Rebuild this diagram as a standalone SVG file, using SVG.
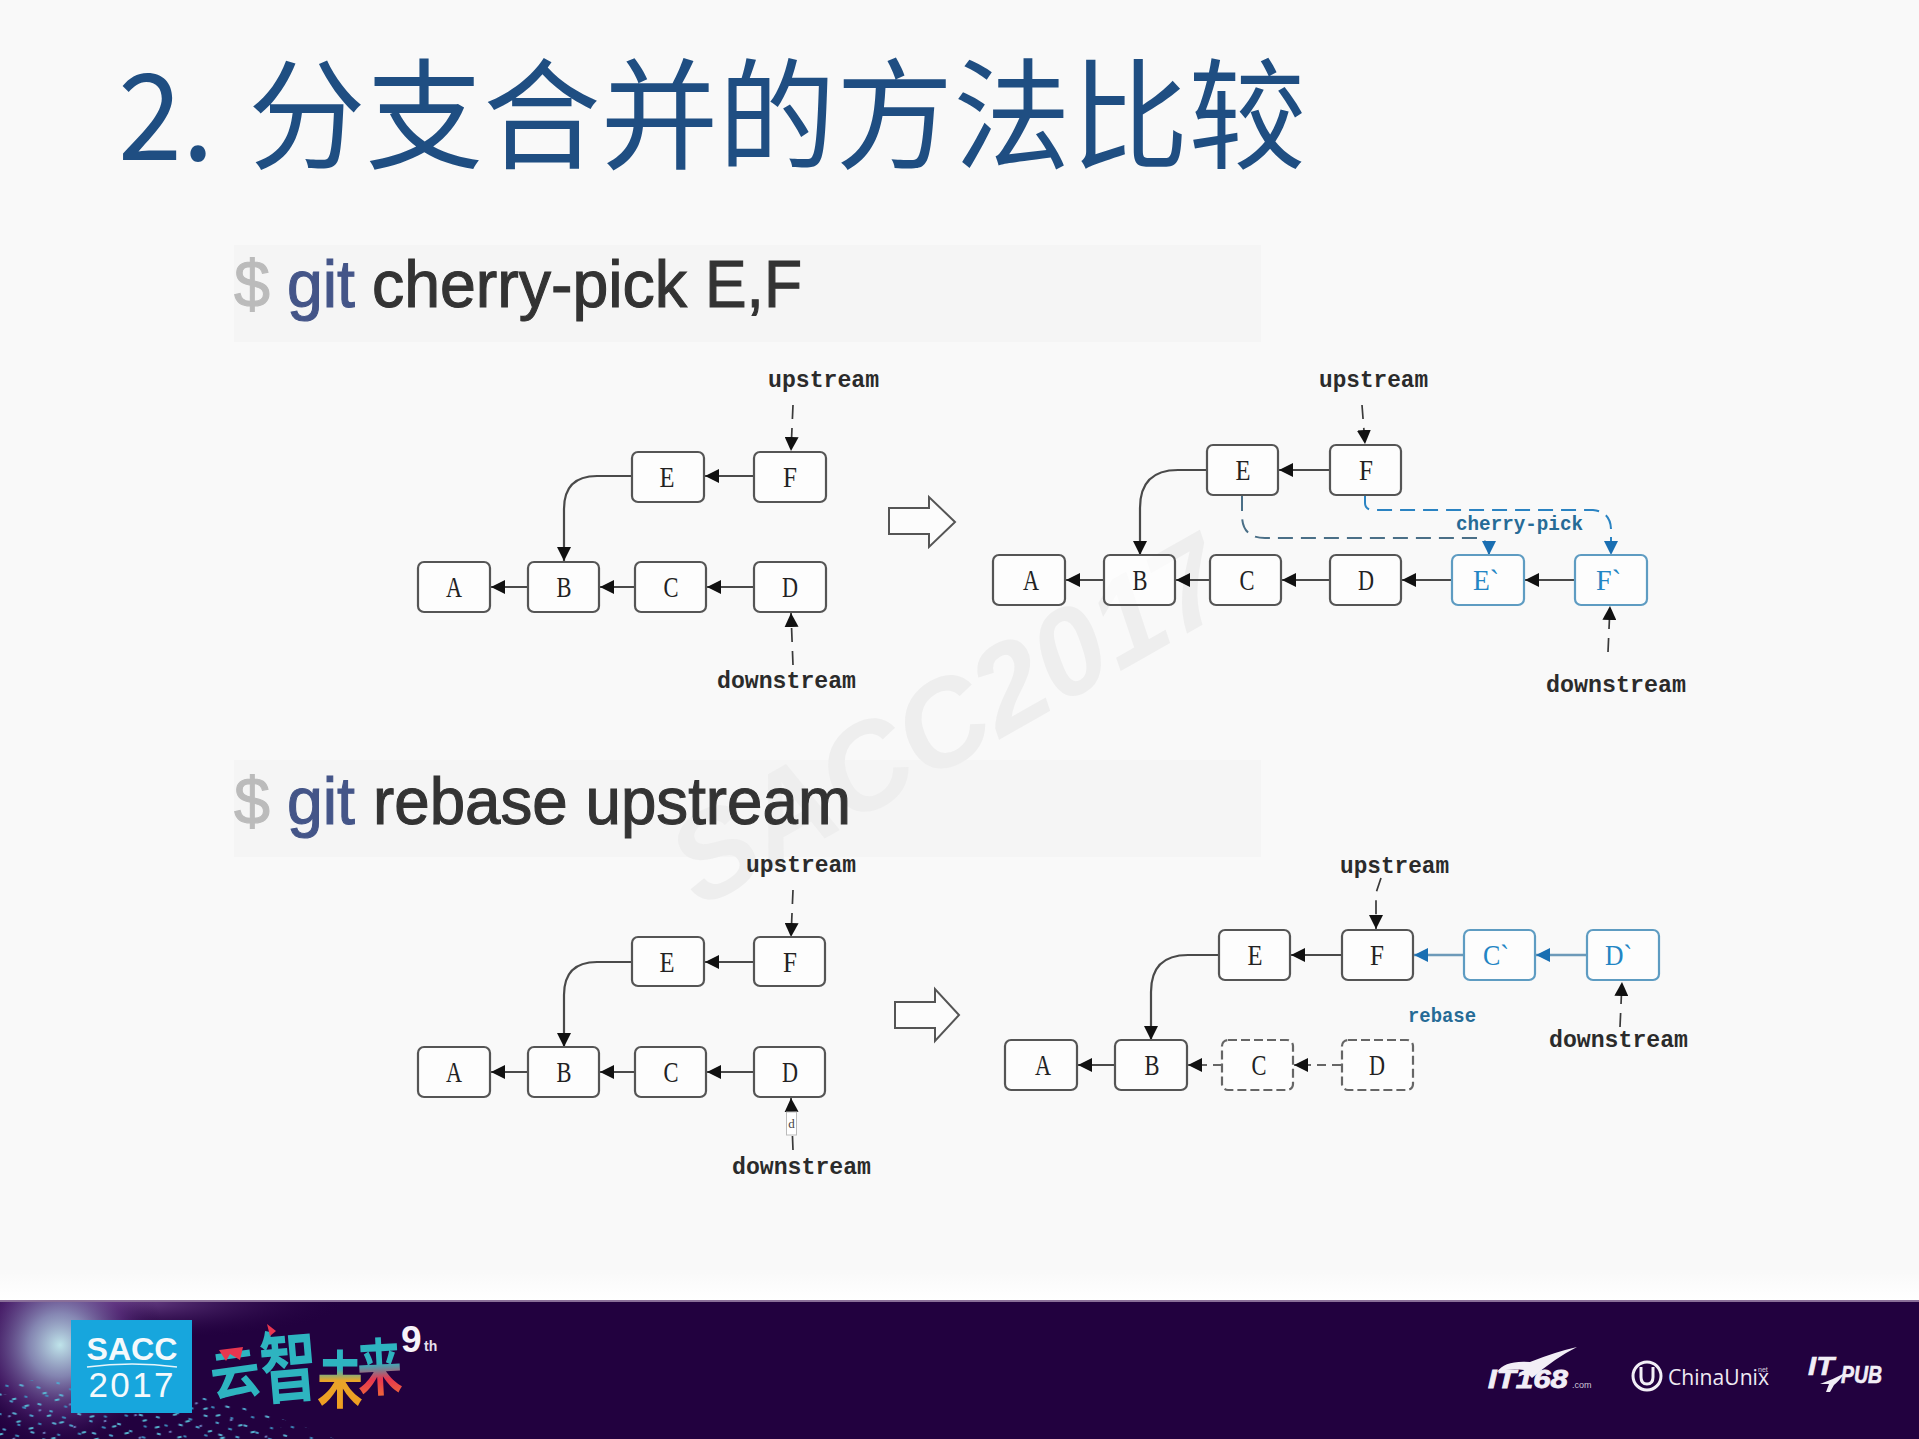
<svg xmlns="http://www.w3.org/2000/svg" width="1919" height="1439" viewBox="0 0 1919 1439">
<defs>
<style>
.n{fill:#fff;fill-opacity:.7;stroke:#555;stroke-width:2.2}
.nb{fill:#fff;fill-opacity:.7;stroke:#5e9cc2;stroke-width:2.2}
.nd{fill:#fff;fill-opacity:.6;stroke:#666;stroke-width:2.2;stroke-dasharray:9 4}
.l{font-family:"Liberation Serif",serif;font-size:30px;fill:#222;text-anchor:middle}
.lb{font-family:"Liberation Serif",serif;font-size:30px;fill:#2385c4}
.m{font-family:"Liberation Mono",monospace;font-size:24px;font-weight:700;fill:#2b2b2b}
.mb{font-family:"Liberation Mono",monospace;font-size:21px;font-weight:700;fill:#266b96}
.e{fill:none;stroke:#4a4a4a;stroke-width:2.2;marker-end:url(#a)}
.eb{fill:none;stroke:#6d9ab9;stroke-width:2.6;marker-end:url(#ab)}
.d{fill:none;stroke:#3a3a3a;stroke-width:1.7;stroke-dasharray:14 9;marker-end:url(#a)}
.ed{fill:none;stroke:#666;stroke-width:2.2;stroke-dasharray:9 6;marker-end:url(#a)}
.cp{fill:none;stroke-width:2;stroke-dasharray:15 8;marker-end:url(#ab)}
.fat{fill:#fcfcfc;stroke:#555;stroke-width:2}
.c{font-family:"Liberation Sans",sans-serif;font-size:66px;stroke-width:1.1}
</style>
<marker id="a" markerUnits="userSpaceOnUse" markerWidth="15" markerHeight="14" refX="14" refY="7" orient="auto"><path d="M0 0L14 7L0 14Z" fill="#111"/></marker>
<marker id="ab" markerUnits="userSpaceOnUse" markerWidth="15" markerHeight="14" refX="14" refY="7" orient="auto"><path d="M0 0L14 7L0 14Z" fill="#1a6fb2"/></marker>
<radialGradient id="glow" gradientUnits="userSpaceOnUse" cx="60" cy="1345" r="105"><stop offset="0" stop-color="#bfe4ea"/><stop offset=".3" stop-color="#8e93bd" stop-opacity=".9"/><stop offset=".65" stop-color="#5b2f7f" stop-opacity=".6"/><stop offset="1" stop-color="#22013f" stop-opacity="0"/></radialGradient>
<radialGradient id="haze" gradientUnits="userSpaceOnUse" cx="120" cy="1302" r="230" gradientTransform="translate(0 1080) scale(1 .17)"><stop offset="0" stop-color="#7a4f98" stop-opacity=".9"/><stop offset="1" stop-color="#22013f" stop-opacity="0"/></radialGradient>
<linearGradient id="fade" x1="0" x2="0" y1="0" y2="1"><stop offset="0" stop-color="#f9f9f9"/><stop offset="1" stop-color="#fff"/></linearGradient>
<linearGradient id="fo" x1="0" x2="0" y1="0" y2="1"><stop offset="0" stop-color="#2eb4c0"/><stop offset=".42" stop-color="#2eb4c0"/><stop offset=".55" stop-color="#e9a52a"/><stop offset="1" stop-color="#f39a1c"/></linearGradient>
<linearGradient id="fr" x1="0" x2="0" y1="0" y2="1"><stop offset="0" stop-color="#2eb4c0"/><stop offset=".5" stop-color="#2eb4c0"/><stop offset=".68" stop-color="#e8364f"/><stop offset="1" stop-color="#f08a2a"/></linearGradient>
<pattern id="p1" patternUnits="userSpaceOnUse" width="41" height="29" patternTransform="rotate(14)"><ellipse cx="4" cy="3" rx="2.4" ry="1" fill="#4fa9d2"/><ellipse cx="14" cy="9" rx="2" ry="1.1" fill="#3d8fc0"/><ellipse cx="28" cy="5" rx="2.6" ry="1" fill="#5bb7d8"/><ellipse cx="35" cy="15" rx="1.8" ry="1" fill="#3d8fc0"/><ellipse cx="9" cy="19" rx="2.4" ry="1" fill="#5bb7d8"/><ellipse cx="22" cy="23" rx="2" ry="1.1" fill="#4fa9d2"/><ellipse cx="36" cy="26" rx="2.4" ry="1" fill="#3d8fc0"/></pattern>
<pattern id="p2" patternUnits="userSpaceOnUse" width="31" height="23" patternTransform="rotate(-11)"><ellipse cx="6" cy="5" rx="2.8" ry="1.1" fill="#58c0d8"/><ellipse cx="18" cy="12" rx="1.6" ry="1" fill="#6d7fc0"/><ellipse cx="26" cy="19" rx="2.6" ry="1" fill="#58c0d8"/></pattern>
</defs>

<rect width="1919" height="1439" fill="#f9f9f9"/>

<g id="title" fill="#1f4e82" font-family="'Noto Sans CJK SC','Noto Sans',sans-serif">
<text x="118" y="160" font-size="120" textLength="96" lengthAdjust="spacingAndGlyphs">2.</text>
<text x="248" y="160" font-size="120" textLength="1058" lengthAdjust="spacingAndGlyphs">分支合并的方法比较</text>
</g>

<rect x="234" y="245" width="1027" height="97" fill="#f5f5f5"/>
<rect x="234" y="760" width="1027" height="97" fill="#f5f5f5"/>
<text x="700" y="909" transform="rotate(-29.5 700 909)" font-family="'Liberation Sans',sans-serif" font-size="122" font-weight="700" font-style="italic" fill="#eeeeee">SACC2017</text>

<g id="cmd1">
<text class="c" x="234" y="307" fill="#bbb" stroke="#bbb" textLength="36" lengthAdjust="spacingAndGlyphs">$</text>
<text class="c" x="287" y="307" fill="#445588" stroke="#445588" textLength="68" lengthAdjust="spacingAndGlyphs">git</text>
<text class="c" x="372" y="307" fill="#333" stroke="#333" textLength="315" lengthAdjust="spacingAndGlyphs">cherry-pick</text>
<text class="c" x="705" y="307" fill="#333" stroke="#333" textLength="97" lengthAdjust="spacingAndGlyphs">E,F</text>
</g>
<g id="cmd2">
<text class="c" x="234" y="824" fill="#bbb" stroke="#bbb" textLength="36" lengthAdjust="spacingAndGlyphs">$</text>
<text class="c" x="287" y="824" fill="#445588" stroke="#445588" textLength="68" lengthAdjust="spacingAndGlyphs">git</text>
<text class="c" x="373" y="824" fill="#333" stroke="#333" textLength="478" lengthAdjust="spacingAndGlyphs">rebase upstream</text>
</g>

<g id="connectors">
<path class="e" d="M754 476H705"/>
<path class="e" d="M632 476H597Q564 476 564 509V561"/>
<path class="e" d="M528 587H491"/>
<path class="e" d="M635 587H600"/>
<path class="e" d="M754 587H707"/>
<path class="d" d="M793 405L791 451"/>
<path class="d" d="M793 665L791 613"/>
<path class="e" d="M1330 470H1279"/>
<path class="e" d="M1207 470H1178Q1140 470 1140 508V555"/>
<path class="e" d="M1104 580H1066"/>
<path class="e" d="M1210 580H1176"/>
<path class="e" d="M1330 580H1282"/>
<path class="e" d="M1452 580H1402"/>
<path class="e" d="M1575 580H1525"/>
<path class="d" d="M1362 405L1365 444"/>
<path class="d" d="M1608 652L1610 606"/>
<path class="cp" stroke="#4a6f87" d="M1242 496V515Q1242 538 1265 538H1476Q1489 538 1489 555"/>
<path class="cp" stroke="#2a83c2" d="M1365 496V503Q1365 510 1374 510H1593Q1611 512 1611 530V555"/>
<path class="e" d="M754 962H705"/>
<path class="e" d="M632 962H597Q564 962 564 995V1047"/>
<path class="e" d="M528 1072H491"/>
<path class="e" d="M635 1072H600"/>
<path class="e" d="M754 1072H707"/>
<path class="d" d="M793 890L791 937"/>
<path class="d" d="M793 1150L791 1098"/>
<path class="e" d="M1341 955H1291"/>
<path class="e" d="M1219 955H1188Q1151 955 1151 992V1040"/>
<path class="eb" d="M1464 955H1414"/>
<path class="eb" d="M1586 955H1536"/>
<path class="e" d="M1115 1065H1078"/>
<path class="ed" d="M1222 1065H1188"/>
<path class="ed" d="M1341 1065H1294"/>
<path class="d" d="M1381 878L1376 893V929"/>
<path class="d" d="M1620 1027L1622 982"/>
</g>

<g id="n1-A"><rect class="n" x="418" y="562" width="72" height="50" rx="6"/><text class="l" x="454" y="597" textLength="16" lengthAdjust="spacingAndGlyphs">A</text></g>
<g id="n1-B"><rect class="n" x="528" y="562" width="71" height="50" rx="6"/><text class="l" x="564" y="597" textLength="15" lengthAdjust="spacingAndGlyphs">B</text></g>
<g id="n1-C"><rect class="n" x="635" y="562" width="71" height="50" rx="6"/><text class="l" x="671" y="597" textLength="15" lengthAdjust="spacingAndGlyphs">C</text></g>
<g id="n1-D"><rect class="n" x="754" y="562" width="72" height="50" rx="6"/><text class="l" x="790" y="597" textLength="16" lengthAdjust="spacingAndGlyphs">D</text></g>
<g id="n1-E"><rect class="n" x="632" y="452" width="72" height="50" rx="6"/><text class="l" x="667" y="487" textLength="15" lengthAdjust="spacingAndGlyphs">E</text></g>
<g id="n1-F"><rect class="n" x="754" y="452" width="72" height="50" rx="6"/><text class="l" x="790" y="487" textLength="14" lengthAdjust="spacingAndGlyphs">F</text></g>
<text class="m" x="768" y="387" textLength="111" lengthAdjust="spacingAndGlyphs">upstream</text>
<text class="m" x="717" y="688" textLength="139" lengthAdjust="spacingAndGlyphs">downstream</text>
<path class="fat" d="M889 508H929V497L955 522L929 547V534H889Z"/>

<g id="n2-A"><rect class="n" x="993" y="555" width="72" height="50" rx="6"/><text class="l" x="1031" y="590" textLength="16" lengthAdjust="spacingAndGlyphs">A</text></g>
<g id="n2-B"><rect class="n" x="1104" y="555" width="71" height="50" rx="6"/><text class="l" x="1140" y="590" textLength="15" lengthAdjust="spacingAndGlyphs">B</text></g>
<g id="n2-C"><rect class="n" x="1210" y="555" width="71" height="50" rx="6"/><text class="l" x="1247" y="590" textLength="15" lengthAdjust="spacingAndGlyphs">C</text></g>
<g id="n2-D"><rect class="n" x="1330" y="555" width="71" height="50" rx="6"/><text class="l" x="1366" y="590" textLength="16" lengthAdjust="spacingAndGlyphs">D</text></g>
<g id="n2-E2"><rect class="nb" x="1452" y="555" width="72" height="50" rx="6"/><text class="lb" x="1473" y="590" textLength="26" lengthAdjust="spacingAndGlyphs">E`</text></g>
<g id="n2-F2"><rect class="nb" x="1575" y="555" width="72" height="50" rx="6"/><text class="lb" x="1596" y="590" textLength="25" lengthAdjust="spacingAndGlyphs">F`</text></g>
<g id="n2-E"><rect class="n" x="1207" y="445" width="71" height="50" rx="6"/><text class="l" x="1243" y="480" textLength="15" lengthAdjust="spacingAndGlyphs">E</text></g>
<g id="n2-F"><rect class="n" x="1330" y="445" width="71" height="50" rx="6"/><text class="l" x="1366" y="480" textLength="14" lengthAdjust="spacingAndGlyphs">F</text></g>
<text class="m" x="1319" y="387" textLength="109" lengthAdjust="spacingAndGlyphs">upstream</text>
<text class="m" x="1546" y="692" textLength="140" lengthAdjust="spacingAndGlyphs">downstream</text>
<text class="mb" x="1456" y="530" textLength="127" lengthAdjust="spacingAndGlyphs">cherry-pick</text>

<g id="n3-A"><rect class="n" x="418" y="1047" width="72" height="50" rx="6"/><text class="l" x="454" y="1082" textLength="16" lengthAdjust="spacingAndGlyphs">A</text></g>
<g id="n3-B"><rect class="n" x="528" y="1047" width="71" height="50" rx="6"/><text class="l" x="564" y="1082" textLength="15" lengthAdjust="spacingAndGlyphs">B</text></g>
<g id="n3-C"><rect class="n" x="635" y="1047" width="71" height="50" rx="6"/><text class="l" x="671" y="1082" textLength="15" lengthAdjust="spacingAndGlyphs">C</text></g>
<g id="n3-D"><rect class="n" x="754" y="1047" width="71" height="50" rx="6"/><text class="l" x="790" y="1082" textLength="16" lengthAdjust="spacingAndGlyphs">D</text></g>
<g id="n3-E"><rect class="n" x="632" y="937" width="72" height="49" rx="6"/><text class="l" x="667" y="972" textLength="15" lengthAdjust="spacingAndGlyphs">E</text></g>
<g id="n3-F"><rect class="n" x="754" y="937" width="71" height="49" rx="6"/><text class="l" x="790" y="972" textLength="14" lengthAdjust="spacingAndGlyphs">F</text></g>
<g id="n3-d"><rect x="786.500" y="1112" width="10" height="23" fill="#fff" stroke="#bbb"/><text x="791.500" y="1128" font-family="'Liberation Serif',serif" font-size="13" fill="#444" text-anchor="middle">d</text></g>
<text class="m" x="746" y="872" textLength="110" lengthAdjust="spacingAndGlyphs">upstream</text>
<text class="m" x="732" y="1174" textLength="139" lengthAdjust="spacingAndGlyphs">downstream</text>
<path class="fat" d="M895 1002H935V989L959 1015L935 1041V1028H895Z"/>

<g id="n4-A"><rect class="n" x="1005" y="1040" width="72" height="50" rx="6"/><text class="l" x="1043" y="1075" textLength="16" lengthAdjust="spacingAndGlyphs">A</text></g>
<g id="n4-B"><rect class="n" x="1115" y="1040" width="72" height="50" rx="6"/><text class="l" x="1152" y="1075" textLength="15" lengthAdjust="spacingAndGlyphs">B</text></g>
<g id="n4-C"><rect class="nd" x="1222" y="1040" width="71" height="50" rx="6"/><text class="l" x="1259" y="1075" textLength="15" lengthAdjust="spacingAndGlyphs">C</text></g>
<g id="n4-D"><rect class="nd" x="1342" y="1040" width="71" height="50" rx="6"/><text class="l" x="1377" y="1075" textLength="16" lengthAdjust="spacingAndGlyphs">D</text></g>
<g id="n4-E"><rect class="n" x="1219" y="930" width="71" height="50" rx="6"/><text class="l" x="1255" y="965" textLength="15" lengthAdjust="spacingAndGlyphs">E</text></g>
<g id="n4-F"><rect class="n" x="1342" y="930" width="71" height="50" rx="6"/><text class="l" x="1377" y="965" textLength="14" lengthAdjust="spacingAndGlyphs">F</text></g>
<g id="n4-C2"><rect class="nb" x="1464" y="930" width="71" height="50" rx="6"/><text class="lb" x="1483" y="965" textLength="26" lengthAdjust="spacingAndGlyphs">C`</text></g>
<g id="n4-D2"><rect class="nb" x="1587" y="930" width="72" height="50" rx="6"/><text class="lb" x="1605" y="965" textLength="27" lengthAdjust="spacingAndGlyphs">D`</text></g>
<text class="m" x="1340" y="873" textLength="109" lengthAdjust="spacingAndGlyphs">upstream</text>
<text class="m" x="1549" y="1047" textLength="139" lengthAdjust="spacingAndGlyphs">downstream</text>
<text class="mb" x="1408" y="1022" textLength="68" lengthAdjust="spacingAndGlyphs">rebase</text>

<g id="footer">
<rect y="1272" width="1919" height="29" fill="url(#fade)"/>
<rect y="1300" width="1919" height="139" fill="#22013f"/>
<rect y="1300" width="1919" height="2" fill="#8a6f98"/>
<rect y="1302" width="360" height="50" fill="url(#haze)"/>
<rect y="1302" width="180" height="137" fill="url(#glow)"/>
<path d="M0 1385Q60 1372 120 1385Q230 1395 335 1439H0Z" fill="url(#p1)"/>
<path d="M0 1395Q100 1385 190 1390Q260 1412 300 1439H0Z" fill="url(#p2)"/>
<rect x="71" y="1320" width="121" height="93" fill="#17a6dd"/>
<text x="132" y="1360" text-anchor="middle" font-family="'Liberation Sans',sans-serif" font-size="31" font-weight="700" fill="#f4f9fc" textLength="91" lengthAdjust="spacingAndGlyphs">SACC</text>
<path d="M87 1367Q132 1361 177 1367" fill="none" stroke="#e6f5fb" stroke-width="1.500"/>
<text x="131" y="1397" text-anchor="middle" font-family="'Liberation Sans',sans-serif" font-size="35" fill="#f4f9fc" textLength="85" lengthAdjust="spacing">2017</text>
<g font-family="'Noto Sans CJK SC',sans-serif" font-weight="700">
<text x="210" y="1394" font-size="54" fill="#2eb4c0" textLength="50" lengthAdjust="spacingAndGlyphs" transform="rotate(-8 235 1372)">云</text>
<text x="260" y="1396" font-size="78" fill="#2eb4c0" textLength="57" lengthAdjust="spacingAndGlyphs" transform="rotate(-5 288 1365)">智</text>
<text x="317" y="1403" font-size="62" fill="url(#fo)" textLength="46" lengthAdjust="spacingAndGlyphs">未</text>
<text x="357" y="1390" font-size="62" fill="url(#fr)" textLength="45" lengthAdjust="spacingAndGlyphs" transform="rotate(-3 380 1365)">来</text>
</g>
<path d="M219 1350L243 1347L240 1360L230 1354L226 1361Z" fill="#e8364f"/>
<path d="M267 1324L276 1331L270 1336Z" fill="#e8364f"/>
<text x="401" y="1352" font-family="'Liberation Sans',sans-serif" font-size="37" font-weight="700" fill="#f6f2f8">9</text>
<text x="424" y="1351" font-family="'Liberation Sans',sans-serif" font-size="14" font-weight="700" fill="#e8e0ee">th</text>

<path d="M1497 1372Q1505 1360 1530 1362Q1555 1352 1577 1347Q1555 1358 1532 1378L1524 1370Q1510 1368 1497 1372Z" fill="#f2eef6"/>
<text x="1488" y="1388" font-family="'Liberation Sans',sans-serif" font-size="26" font-weight="700" font-style="italic" fill="#f2eef6" stroke="#f2eef6" stroke-width=".8" textLength="80" lengthAdjust="spacingAndGlyphs">IT168</text>
<text x="1572" y="1388" font-family="'Liberation Sans',sans-serif" font-size="9" fill="#cfc6d8">.com</text>
<circle cx="1647" cy="1376" r="14" fill="none" stroke="#f2eef6" stroke-width="3"/>
<path d="M1641 1367V1377Q1641 1384 1647 1384Q1653 1384 1653 1377V1367" fill="none" stroke="#f2eef6" stroke-width="3"/>
<text x="1668" y="1385" font-family="'Open Sans',sans-serif" font-size="21" fill="#efeaf3" textLength="101" lengthAdjust="spacingAndGlyphs">ChinaUnix</text>
<text x="1758" y="1372" font-family="'Liberation Sans',sans-serif" font-size="7" fill="#d8d0de">net</text>
<text x="1808" y="1375" font-family="'Liberation Sans',sans-serif" font-size="26" font-weight="700" font-style="italic" fill="#f2eef6" stroke="#f2eef6" stroke-width=".6" textLength="26" lengthAdjust="spacingAndGlyphs">IT</text>
<text x="1841" y="1383" font-family="'Liberation Sans',sans-serif" font-size="24" font-weight="700" font-style="italic" fill="#f2eef6" stroke="#f2eef6" stroke-width=".6" textLength="41" lengthAdjust="spacingAndGlyphs">PUB</text>
<path d="M1820 1384Q1832 1380 1845 1373Q1838 1382 1834 1385L1830 1392H1826L1829 1384Z" fill="#f2eef6"/>
</g>
</svg>
